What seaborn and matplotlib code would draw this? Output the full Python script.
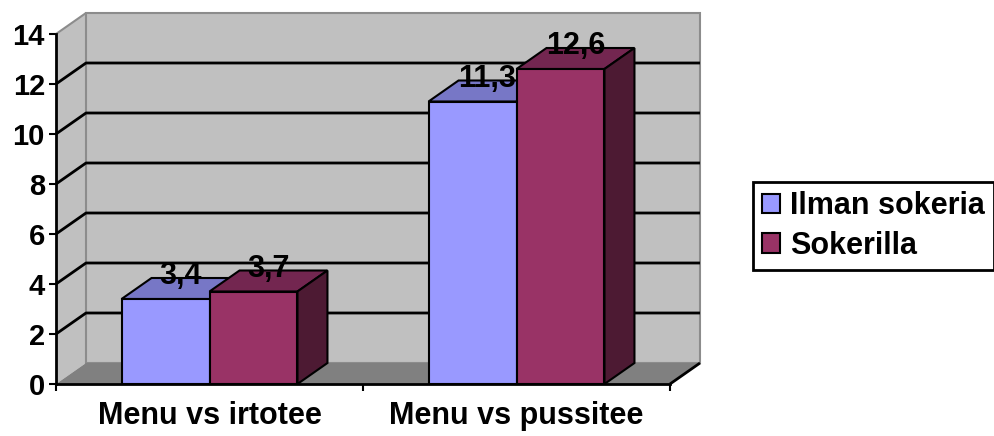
import matplotlib
matplotlib.use("Agg")
import matplotlib.pyplot as plt
import seaborn as sns
import pandas as pd
from matplotlib.patches import Polygon, Patch
from matplotlib.lines import Line2D
from matplotlib.transforms import IdentityTransform

# data
categories = ["Menu vs irtotee", "Menu vs pussitee"]
series_names = ["Ilman sokeria", "Sokerilla"]
ilman_sokeria = [3.4, 11.3]
sokerilla = [3.7, 12.6]
y_ticks = [0, 2, 4, 6, 8, 10, 12, 14]

front_colors = ["#9999FF", "#993366"]
top_colors = ["#7777C6", "#732650"]
side_colors = ["#5C5C99", "#4D1A33"]

sns.set_style("white")
plt.rcParams["font.family"] = ["Liberation Sans", "DejaVu Sans"]
plt.rcParams["font.weight"] = "bold"
plt.rcParams["text.color"] = "black"
plt.rcParams["xtick.color"] = "black"
plt.rcParams["ytick.color"] = "black"

fig = plt.figure(figsize=(9.95, 4.36), dpi=100)
ax = fig.add_axes([56 / 995, 52 / 436, 614 / 995, 350 / 436])

df = pd.DataFrame({
    "Kategoria": categories * 2,
    "Sarja": [s for s in series_names for _ in categories],
    "Arvo": ilman_sokeria + sokerilla,
})

sns.barplot(data=df, x="Kategoria", y="Arvo", hue="Sarja", palette=front_colors,
            width=0.573, gap=0, saturation=1, edgecolor="black", linewidth=1.5,
            legend=False, ax=ax, zorder=3)
bars = list(ax.patches)

ax.set_xlim(-0.5, 1.5)
ax.set_ylim(0, 14)
ax.patch.set_visible(False)
ax.set_xlabel("")
ax.set_ylabel("")

# depth of the 3d box in pixels
DX, DY = 30, 21


def disp(x, y, back=False):
    p = ax.transData.transform((x, y))
    if back:
        p = p + (DX, DY)
    return p


def poly(pts, fc, ec="none", lw=1.0, z=1):
    ax.add_patch(Polygon(pts, closed=True, facecolor=fc, edgecolor=ec, linewidth=lw,
                         transform=IdentityTransform(), zorder=z, joinstyle="miter",
                         clip_on=False))


def line(pts, color="black", lw=2, z=1):
    xs = [p[0] for p in pts]
    ys = [p[1] for p in pts]
    ax.add_line(Line2D(xs, ys, color=color, linewidth=lw, transform=IdentityTransform(),
                       zorder=z, solid_capstyle="butt", clip_on=False))


x0, x1 = -0.5, 1.5
ytop = y_ticks[-1]
# walls and floor
poly([disp(x0, 0), disp(x0, ytop), disp(x0, ytop, True), disp(x0, 0, True)], "#C0C0C0", z=0.5)
poly([disp(x0, 0, True), disp(x1, 0, True), disp(x1, ytop, True), disp(x0, ytop, True)],
     "#C0C0C0", ec="#8C8C8C", lw=1.5, z=0.5)
poly([disp(x0, 0), disp(x1, 0), disp(x1, 0, True), disp(x0, 0, True)], "#808080", z=0.6)
line([disp(x0, ytop), disp(x0, ytop, True)], color="#8C8C8C", lw=1.5, z=0.7)
line([disp(x1, 0), disp(x1, 0, True)], lw=2, z=0.7)

for t in y_ticks[1:-1]:
    line([disp(x0, t), disp(x0, t, True), disp(x1, t, True)], lw=2, z=0.8)

# 3d faces of the bars
n_cat = len(categories)
for i, b in enumerate(bars):
    k = i // n_cat
    bx, bw, bh = b.get_x(), b.get_width(), b.get_height()
    poly([disp(bx, bh), disp(bx + bw, bh), disp(bx + bw, bh, True), disp(bx, bh, True)],
         top_colors[k], ec="black", lw=1.5, z=2)
    poly([disp(bx + bw, 0), disp(bx + bw, bh), disp(bx + bw, bh, True), disp(bx + bw, 0, True)],
         side_colors[k], ec="black", lw=1.5, z=2)
    ax.annotate(f"{bh:.1f}".replace(".", ","), (bx + bw / 2, bh),
                xytext=(15 * 0.72, 23 * 0.72), textcoords="offset points",
                ha="center", va="center", fontsize=22, fontweight="bold", zorder=2.5,
                color="black")

# axes
for s in ["top", "right"]:
    ax.spines[s].set_visible(False)
for s in ["left", "bottom"]:
    ax.spines[s].set_color("black")
    ax.spines[s].set_linewidth(2)
    ax.spines[s].set_zorder(2.6)

ax.set_yticks(y_ticks)
ax.set_yticklabels([str(t) for t in y_ticks])
ax.tick_params(axis="y", direction="out", length=5, width=1.5, color="black",
               pad=3, labelsize=21, left=True, labelcolor="black")
ax.set_xticks(range(n_cat))
ax.set_xticklabels(categories)
ax.tick_params(axis="x", which="major", length=0, pad=12, labelsize=22, labelcolor="black")
ax.set_xticks([-0.5, 0.5, 1.5], minor=True)
ax.tick_params(axis="x", which="minor", direction="out", length=5, width=1.5,
               color="black", bottom=True)
for lbl in ax.get_xticklabels() + ax.get_yticklabels():
    lbl.set_fontweight("bold")

handles = [Patch(facecolor=c, edgecolor="black", linewidth=1.5) for c in front_colors]
leg = fig.legend(handles, series_names, loc="center left",
                 bbox_to_anchor=(753 / 995, 1 - 226 / 436), frameon=True, fancybox=False,
                 edgecolor="black", framealpha=1, fontsize=22, handlelength=0.6,
                 handleheight=0.6, handletextpad=0.3, borderpad=0.3, labelspacing=0.3,
                 borderaxespad=0)
leg.get_frame().set_linewidth(2)
for t in leg.get_texts():
    t.set_fontweight("bold")
    t.set_color("black")

fig.savefig("out.png", dpi=100, facecolor="white")
